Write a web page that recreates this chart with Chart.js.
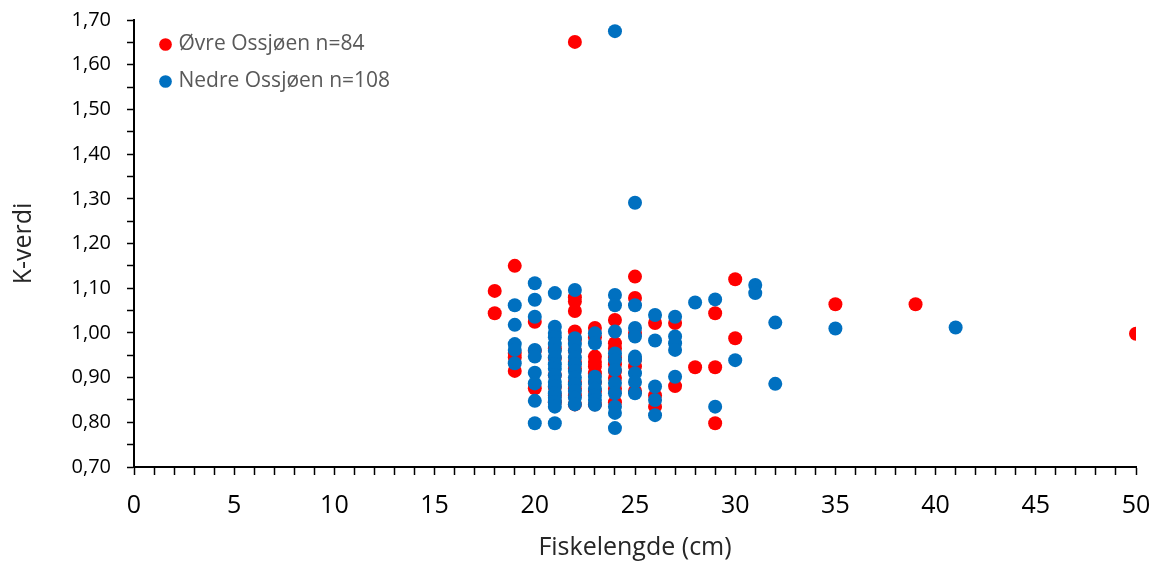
<!DOCTYPE html>
<html lang="no">
<head>
<meta charset="UTF-8">
<title>K-verdi mot fiskelengde</title>
<script src="https://cdn.jsdelivr.net/npm/chart.js"></script>
<style>
    html, body { margin: 0; padding: 0; background: #fff; }
    #wrap { width: 1158px; height: 563px; position: relative; }
</style>
</head>
<body>
<div id="wrap"><canvas id="chart"></canvas></div>
<script>
// Øvre Ossjøen: lengde (cm) og K-verdi
const ovreLengde = [
    18, 18,
    19, 19, 19, 19,
    20, 20, 20,
    21, 21, 21, 21, 21, 21,
    22, 22, 22, 22, 22, 22, 22, 22, 22, 22, 22, 22, 22,
    23, 23, 23, 23, 23, 23, 23, 23, 23,
    24, 24, 24, 24, 24, 24, 24, 24, 24,
    25, 25, 25, 25, 25, 25,
    26, 26, 26,
    27, 27,
    28,
    29, 29, 29,
    30, 30,
    35, 39, 50
];
const ovreK = [
    1.094, 1.044,
    1.150, 0.955, 0.945, 0.915,
    1.025, 0.960, 0.876,
    0.965, 0.944, 0.906, 0.879, 0.860, 0.845,
    1.651, 1.080, 1.070, 1.049, 1.003, 0.985, 0.960, 0.935, 0.920, 0.890, 0.875, 0.860, 0.840,
    1.011, 0.990, 0.947, 0.935, 0.925, 0.910, 0.890, 0.870, 0.840,
    1.029, 0.977, 0.965, 0.945, 0.930, 0.915, 0.899, 0.875, 0.845,
    1.126, 1.078, 1.000, 0.940, 0.925, 0.870,
    1.022, 0.860, 0.835,
    1.022, 0.881,
    0.923,
    1.044, 0.923, 0.798,
    1.120, 0.988,
    1.064, 1.064, 0.998
];

// Nedre Ossjøen
const nedreLengde = [
    19, 19, 19, 19, 19,
    20, 20, 20, 20, 20, 20, 20, 20, 20,
    21, 21, 21, 21, 21, 21, 21, 21, 21, 21, 21, 21, 21, 21, 21, 21, 21,
    22, 22, 22, 22, 22, 22, 22, 22, 22, 22, 22, 22,
    23, 23, 23, 23, 23, 23, 23, 23,
    24, 24, 24, 24, 24, 24, 24, 24, 24, 24, 24, 24,
    25, 25, 25, 25, 25, 25, 25, 25, 25,
    26, 26, 26, 26, 26,
    27, 27, 27, 27, 27,
    28,
    29, 29,
    30,
    31, 31,
    32, 32,
    35, 41
];
const nedreK = [
    1.062, 1.018, 0.975, 0.962, 0.932,
    1.111, 1.074, 1.036, 0.962, 0.947, 0.911, 0.887, 0.848, 0.798,
    1.089, 1.014, 1.000, 0.990, 0.975, 0.960, 0.945, 0.930, 0.920, 0.905, 0.890, 0.880, 0.865, 0.855, 0.845, 0.835, 0.798,
    1.096, 0.988, 0.975, 0.960, 0.945, 0.930, 0.915, 0.900, 0.885, 0.870, 0.855, 0.840,
    0.999, 0.977, 0.902, 0.890, 0.875, 0.860, 0.850, 0.839,
    1.675, 1.085, 1.062, 1.003, 0.954, 0.940, 0.917, 0.888, 0.865, 0.835, 0.821, 0.787,
    1.291, 1.062, 1.011, 0.992, 0.947, 0.940, 0.910, 0.890, 0.865,
    1.040, 0.983, 0.880, 0.850, 0.816,
    1.036, 0.992, 0.977, 0.962, 0.902,
    1.068,
    1.075, 0.835,
    0.939,
    1.107, 1.089,
    1.023, 0.886,
    1.010, 1.012
];

const seriesNavn = ['Øvre Ossjøen n=84', 'Nedre Ossjøen n=108'];

function toPoints(xs, ys) {
    return xs.map((x, i) => ({ x: x, y: ys[i] }));
}

const FONT = '"Open Sans", Lato, sans-serif';

// legend sits inside the plot, nudge it in from the corner
const legendInset = {
    id: 'legendInset',
    afterLayout(chart) {
        const lg = chart.legend;
        if (!lg) return;
        lg.left = chart.chartArea.left + 13;
        lg.top = chart.chartArea.top - 2;
    }
};

new Chart(document.getElementById('chart'), {
    type: 'scatter',
    data: {
        datasets: [
            {
                label: seriesNavn[0],
                data: toPoints(ovreLengde, ovreK),
                backgroundColor: '#FF0000',
                borderWidth: 0,
                pointRadius: 7,
                order: 2
            },
            {
                label: seriesNavn[1],
                data: toPoints(nedreLengde, nedreK),
                backgroundColor: '#0070C0',
                borderWidth: 0,
                pointRadius: 7,
                order: 1
            }
        ]
    },
    plugins: [legendInset],
    options: {
        responsive: true,
        maintainAspectRatio: false,
        animation: false,
        layout: { padding: { top: 20, right: 22, left: 0, bottom: 0 } },
        plugins: {
            tooltip: { enabled: false },
            legend: {
                position: 'chartArea',
                align: 'start',
                labels: {
                    usePointStyle: true,
                    pointStyle: 'circle',
                    boxWidth: 5,
                    boxHeight: 9,
                    padding: 16,
                    color: '#595959',
                    font: { family: FONT, size: 21 },
                    sort: (a, b) => a.datasetIndex - b.datasetIndex
                }
            }
        },
        scales: {
            x: {
                type: 'linear',
                min: 0,
                max: 50,
                border: { color: '#000', width: 2 },
                grid: {
                    drawOnChartArea: false,
                    tickLength: 8,
                    tickColor: '#000',
                    tickWidth: 1.5
                },
                ticks: {
                    stepSize: 1,
                    autoSkip: false,
                    maxRotation: 0,
                    padding: 16,
                    color: '#000',
                    font: { family: FONT, size: 25 },
                    callback: v => (v % 5 === 0 ? String(v) : '')
                },
                title: {
                    display: true,
                    text: 'Fiskelengde (cm)',
                    color: '#262626',
                    font: { family: FONT, size: 25 },
                    padding: { top: 0, bottom: 0 }
                },
                afterFit: s => { s.height = 96; s.paddingLeft = 0; s.paddingRight = 0; }
            },
            y: {
                type: 'linear',
                min: 0.7,
                max: 1.7,
                border: { color: '#000', width: 2 },
                grid: {
                    drawOnChartArea: false,
                    tickLength: 7,
                    tickColor: '#000',
                    tickWidth: 1.5
                },
                ticks: {
                    stepSize: 0.05,
                    autoSkip: false,
                    padding: 16,
                    color: '#000',
                    font: { family: FONT, size: 20 },
                    callback: v => {
                        const h = Math.round(v * 100);
                        return h % 10 === 0 ? (h / 100).toFixed(2).replace('.', ',') : '';
                    }
                },
                title: {
                    display: true,
                    text: 'K-verdi',
                    color: '#262626',
                    font: { family: FONT, size: 25 },
                    padding: { top: 9, bottom: 0 }
                },
                afterFit: s => { s.width = 134; s.paddingTop = 0; s.paddingBottom = 0; }
            }
        }
    }
});
</script>
</body>
</html>
